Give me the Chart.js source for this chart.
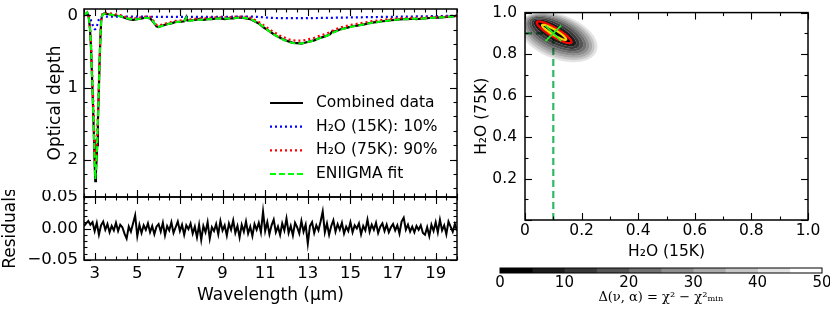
<!DOCTYPE html>
<html>
<head>
<meta charset="utf-8">
<script src="https://cdn.jsdelivr.net/npm/chart.js@4.4.0/dist/chart.umd.min.js"></script>
<style>
html, body { margin: 0; padding: 0; background: #fff; }
#wrap { position: relative; width: 830px; height: 319px; overflow: hidden; }
canvas { position: absolute; }
</style>
</head>
<body>
<div id="wrap">
  <canvas id="spec" width="470" height="200" style="left:0;top:0"></canvas>
  <canvas id="resid" width="470" height="129" style="left:0;top:190px"></canvas>
  <canvas id="chi" width="360" height="262" style="left:470px;top:0"></canvas>
  <canvas id="cbar" width="360" height="57" style="left:470px;top:262px"></canvas>
</div>
<script>
// ---- spectrum (optical depth) ----
const wl = [
  2.50, 2.58, 2.65, 2.72, 2.78, 2.83, 2.88, 2.93, 2.97, 3.00,
  3.03, 3.06, 3.09, 3.12, 3.15, 3.19, 3.23, 3.27, 3.31, 3.36,
  3.45, 3.60, 3.80, 4.00, 4.20, 4.40, 4.60, 4.80, 5.00, 5.20,
  5.40, 5.60, 5.75, 5.90, 6.00, 6.20, 6.40, 6.60, 6.80, 7.00,
  7.20, 7.30, 7.35, 7.50, 7.70, 7.90, 8.10, 8.30, 8.50, 8.70,
  8.90, 9.10, 9.30, 9.50, 9.70, 9.90, 10.1, 10.3, 10.5, 10.7,
  10.9, 11.1, 11.3, 11.5, 11.7, 11.9, 12.1, 12.3, 12.5, 12.7,
  12.9, 13.1, 13.3, 13.5, 13.7, 13.9, 14.05, 14.15, 14.3, 14.5,
  14.7, 14.9, 15.1, 15.3, 15.5, 15.7, 15.9, 16.1, 16.3, 16.5,
  16.7, 16.9, 17.1, 17.3, 17.5, 17.7, 17.9, 18.1, 18.3, 18.5,
  18.7, 18.9, 19.1, 19.3, 19.5, 19.7, 19.9, 20.0
];
const tauData = [
  0.00, -0.02, -0.04, 0.02, 0.18, 0.45, 0.88, 1.32, 1.72, 2.05,
  2.30, 2.18, 2.00, 1.80, 1.50, 1.10, 0.66, 0.30, 0.06, -0.01,
  -0.03, -0.02, -0.01, 0.00, 0.01, 0.03, 0.05, 0.06, 0.05, 0.04,
  0.03, 0.04, 0.09, 0.15, 0.16, 0.14, 0.12, 0.11, 0.09, 0.09,
  0.08, 0.02, 0.07, 0.07, 0.06, 0.05, 0.06, 0.05, 0.05, 0.04,
  0.04, 0.05, 0.04, 0.04, 0.03, 0.03, 0.04, 0.05, 0.08, 0.11,
  0.16, 0.20, 0.24, 0.28, 0.31, 0.34, 0.36, 0.38, 0.385, 0.39,
  0.375, 0.36, 0.345, 0.32, 0.30, 0.28, 0.26, 0.22, 0.22, 0.195,
  0.18, 0.165, 0.15, 0.14, 0.13, 0.12, 0.105, 0.095, 0.09, 0.08,
  0.075, 0.065, 0.06, 0.055, 0.05, 0.05, 0.045, 0.05, 0.045, 0.04,
  0.035, 0.03, 0.03, 0.025, 0.02, 0.015, 0.01, 0.005
];
const tau15 = [
  0.00, -0.01, -0.02, 0.00, 0.03, 0.07, 0.11, 0.15, 0.18, 0.19,
  0.19, 0.18, 0.16, 0.13, 0.09, 0.06, 0.04, 0.025, 0.02, 0.015,
  0.015, 0.015, 0.015, 0.015, 0.015, 0.015, 0.016, 0.016, 0.017, 0.017,
  0.017, 0.017, 0.018, 0.018, 0.018, 0.018, 0.018, 0.018, 0.018, 0.018,
  0.018, 0.018, 0.018, 0.018, 0.018, 0.018, 0.018, 0.018, 0.018, 0.018,
  0.018, 0.018, 0.018, 0.017, 0.017, 0.016, 0.016, 0.016, 0.017, 0.020,
  0.025, 0.030, 0.033, 0.035, 0.036, 0.037, 0.038, 0.038, 0.038, 0.038,
  0.038, 0.037, 0.036, 0.035, 0.034, 0.033, 0.032, 0.032, 0.031, 0.030,
  0.029, 0.028, 0.027, 0.026, 0.025, 0.024, 0.023, 0.022, 0.021, 0.020,
  0.020, 0.019, 0.018, 0.017, 0.016, 0.015, 0.014, 0.013, 0.012, 0.011,
  0.010, 0.009, 0.008, 0.007, 0.006, 0.005, 0.004, 0.004
];
const tau75 = [
  0.00, -0.01, -0.02, 0.02, 0.15, 0.38, 0.77, 1.16, 1.52, 1.84,
  2.08, 1.98, 1.83, 1.66, 1.40, 1.03, 0.62, 0.27, 0.04, -0.02,
  -0.04, -0.035, -0.025, -0.015, -0.005, 0.015, 0.03, 0.04, 0.035, 0.025,
  0.015, 0.02, 0.07, 0.13, 0.14, 0.125, 0.105, 0.09, 0.075, 0.07,
  0.065, 0.06, 0.06, 0.055, 0.045, 0.04, 0.04, 0.035, 0.03, 0.025,
  0.025, 0.025, 0.025, 0.02, 0.015, 0.015, 0.02, 0.03, 0.06, 0.09,
  0.13, 0.17, 0.21, 0.245, 0.28, 0.305, 0.33, 0.345, 0.35, 0.35,
  0.34, 0.325, 0.31, 0.287, 0.268, 0.249, 0.23, 0.213, 0.194, 0.168,
  0.154, 0.139, 0.125, 0.115, 0.106, 0.096, 0.084, 0.075, 0.069, 0.061,
  0.055, 0.048, 0.043, 0.039, 0.035, 0.034, 0.032, 0.034, 0.032, 0.029,
  0.026, 0.023, 0.021, 0.018, 0.014, 0.011, 0.007, 0.003
];
const tauFit = [
  0.00, -0.02, -0.04, 0.02, 0.18, 0.45, 0.88, 1.31, 1.70, 2.03,
  2.27, 2.16, 1.99, 1.79, 1.49, 1.09, 0.66, 0.30, 0.06, -0.005,
  -0.025, -0.02, -0.01, 0.00, 0.01, 0.03, 0.045, 0.055, 0.052, 0.042,
  0.032, 0.037, 0.088, 0.148, 0.158, 0.143, 0.123, 0.108, 0.093, 0.088,
  0.083, 0.03, 0.078, 0.073, 0.063, 0.058, 0.058, 0.053, 0.048, 0.043,
  0.043, 0.043, 0.043, 0.037, 0.032, 0.031, 0.036, 0.046, 0.077, 0.11,
  0.155, 0.20, 0.243, 0.28, 0.316, 0.342, 0.368, 0.383, 0.388, 0.388,
  0.378, 0.362, 0.346, 0.322, 0.302, 0.282, 0.262, 0.245, 0.225, 0.198,
  0.183, 0.167, 0.152, 0.141, 0.131, 0.12, 0.107, 0.097, 0.09, 0.081,
  0.075, 0.067, 0.061, 0.056, 0.051, 0.049, 0.046, 0.047, 0.044, 0.04,
  0.036, 0.032, 0.029, 0.025, 0.02, 0.016, 0.011, 0.007
];
const seriesNames = ['Combined data', 'H\u2082O (15K): 10%', 'H\u2082O (75K): 90%', 'ENIIGMA fit'];

// ---- residuals ----
const resWl = [
  2.5, 2.6, 2.7, 2.8, 2.9,
  3.0, 3.1, 3.2, 3.3, 3.4, 3.5, 3.6, 3.7, 3.8, 3.9,
  4.0, 4.1, 4.2, 4.3, 4.4, 4.5, 4.6, 4.7, 4.8, 4.9,
  5.0, 5.1, 5.2, 5.3, 5.4, 5.5, 5.6, 5.7, 5.8, 5.9,
  6.0, 6.1, 6.2, 6.3, 6.4, 6.5, 6.6, 6.7, 6.8, 6.9,
  7.0, 7.1, 7.2, 7.3, 7.4, 7.5, 7.6, 7.7, 7.8, 7.9,
  8.0, 8.1, 8.2, 8.3, 8.4, 8.5, 8.6, 8.7, 8.8, 8.9,
  9.0, 9.1, 9.2, 9.3, 9.4, 9.5, 9.6, 9.7, 9.8, 9.9,
  10.0, 10.1, 10.2, 10.3, 10.4, 10.5, 10.6, 10.7, 10.8, 10.9,
  11.0, 11.1, 11.2, 11.3, 11.4, 11.5, 11.6, 11.7, 11.8, 11.9,
  12.0, 12.1, 12.2, 12.3, 12.4, 12.5, 12.6, 12.7, 12.8, 12.9,
  13.0, 13.1, 13.2, 13.3, 13.4, 13.5, 13.6, 13.7, 13.8, 13.9,
  14.0, 14.1, 14.2, 14.3, 14.4, 14.5, 14.6, 14.7, 14.8, 14.9,
  15.0, 15.1, 15.2, 15.3, 15.4, 15.5, 15.6, 15.7, 15.8, 15.9,
  16.0, 16.1, 16.2, 16.3, 16.4, 16.5, 16.6, 16.7, 16.8, 16.9,
  17.0, 17.1, 17.2, 17.3, 17.4, 17.5, 17.6, 17.7, 17.8, 17.9,
  18.0, 18.1, 18.2, 18.3, 18.4, 18.5, 18.6, 18.7, 18.8, 18.9,
  19.0, 19.1, 19.2, 19.3, 19.4, 19.5, 19.6, 19.7, 19.8, 19.9,
  20.0
];
const residuals = [
  0.004, 0.008, 0.012, 0.006, 0.010,
  -0.004, 0.009, -0.010, 0.005, 0.011, -0.002, 0.007, -0.006, 0.004, -0.003,
  0.009, -0.004, 0.006, 0.002, -0.008, -0.016, 0.003, -0.005, 0.008, 0.021,
  -0.012, 0.006, -0.007, 0.005, -0.002, 0.008, -0.006, 0.004, -0.009, 0.003,
  0.007, -0.005, 0.009, -0.011, 0.004, -0.003, 0.010, -0.007, 0.002, 0.011,
  -0.004, 0.006, -0.010, 0.005, -0.001, 0.008, -0.008, 0.003, -0.014, 0.006,
  -0.018, 0.004, -0.006, 0.010, -0.016, 0.002, -0.004, 0.007, -0.009, 0.012,
  -0.003, 0.005, -0.011, 0.008, -0.002, 0.013, -0.007, 0.004, -0.014, 0.006,
  -0.005, 0.011, -0.008, 0.003, -0.012, 0.007, -0.002, 0.009, -0.006, 0.027,
  -0.004, 0.010, -0.009, 0.005, 0.014, -0.006, 0.003, -0.010, 0.008, -0.003,
  0.016, -0.007, 0.004, -0.011, 0.009, 0.002, -0.008, 0.012, -0.005, 0.006,
  -0.024, 0.004, 0.010, -0.007, 0.005, -0.003, 0.011, 0.027, -0.006, 0.008,
  -0.010, 0.004, 0.013, -0.005, 0.007, -0.002, 0.009, -0.008, 0.003, -0.004,
  0.010, -0.006, 0.005, 0.000, 0.008, -0.009, 0.004, -0.003, 0.014, -0.005,
  0.006, -0.002, 0.009, -0.007, 0.003, 0.008, -0.004, 0.006, -0.006, 0.002,
  0.007, -0.003, 0.005, -0.008, 0.011, 0.017, -0.002, 0.006, -0.005, 0.003,
  -0.006, 0.004, -0.002, 0.005, -0.007, -0.010, 0.002, -0.012, 0.006, -0.004,
  0.010, -0.006, 0.014, -0.003, 0.005, -0.009, 0.011, 0.003, -0.005, 0.007,
  -0.004
];

// ---- chi-square map ----
const bestX = 0.10, bestY = 0.90;
const chiLevels = [0, 5, 10, 15, 20, 25, 30, 35, 40, 45, 50];
const bandGray = ['#000000', '#1c1c1c', '#393939', '#555555', '#717171',
                  '#8e8e8e', '#aaaaaa', '#c6c6c6', '#e3e3e3', '#ffffff'];
// elliptical extent of each band (Δ <= 5, 10, ... 50)
const ellCx  = [0.104, 0.106, 0.108, 0.110, 0.112, 0.114, 0.116, 0.117, 0.119, 0.121];
const ellCy  = [0.904, 0.902, 0.899, 0.897, 0.894, 0.891, 0.888, 0.885, 0.882, 0.879];
const ellA   = [0.080, 0.093, 0.104, 0.114, 0.123, 0.131, 0.139, 0.146, 0.153, 0.160];
const ellB   = [0.022, 0.034, 0.045, 0.055, 0.064, 0.073, 0.082, 0.091, 0.100, 0.108];
const ellAng = [-40, -39.5, -39, -38.5, -38, -37.5, -37, -36.5, -36, -35.5];
// confidence contours
const confA = [0.078, 0.055];
const confB = [0.019, 0.011];
const confColor = ['#ff0000', '#ffd200'];

// ---- ticks ----
const specXTicks = [3, 5, 7, 9, 11, 13, 15, 17, 19];
const specXLabels = ['3', '5', '7', '9', '11', '13', '15', '17', '19'];
const tauTicks = [0, 1, 2];
const tauLabels = ['0', '1', '2'];
const resTicks = [-0.05, 0, 0.05];
const resLabels = ['\u22120.05', '0.00', '0.05'];
const fracTicks = [0, 0.2, 0.4, 0.6, 0.8, 1.0];
const fracXLabels = ['0', '0.2', '0.4', '0.6', '0.8', '1.0'];
const fracYLabels = ['', '0.2', '0.4', '0.6', '0.8', '1.0'];
const cbTicks = [0, 10, 20, 30, 40, 50];

const range = (a, b, s) => { const r = []; for (let v = a; v <= b + 1e-9; v += s) r.push(+v.toFixed(4)); return r; };
const pts = (xs, ys) => xs.map((x, i) => ({x: x, y: ys[i]}));
const setTicks = vals => s => { s.ticks = vals.map(v => ({value: v})); };
// fix an axis box size and drop the label overhang padding chart.js adds
const fitW = w => s => { s.width = w; s.paddingTop = s.paddingBottom = s.paddingLeft = s.paddingRight = 0; };
const fitH = h => s => { s.height = h; s.paddingTop = s.paddingBottom = s.paddingLeft = s.paddingRight = 0; };

Chart.defaults.font.family = "'DejaVu Sans', sans-serif";
Chart.defaults.color = '#000';

// axes frame with inward ticks on all four sides
const frameTicks = {
  id: 'frameTicks',
  afterDatasetsDraw(chart, args, o) {
    const {ctx, chartArea: a, scales} = chart;
    const xs = scales.x, ys = scales.y;
    ctx.save();
    ctx.strokeStyle = '#000';
    ctx.lineWidth = 1.1;
    const seg = (x1, y1, x2, y2) => { ctx.beginPath(); ctx.moveTo(x1, y1); ctx.lineTo(x2, y2); ctx.stroke(); };
    const xt = (vals, len) => (vals || []).forEach(v => {
      const p = Math.round(xs.getPixelForValue(v)) + 0.5;
      seg(p, a.bottom, p, a.bottom - len); seg(p, a.top, p, a.top + len);
    });
    const yt = (vals, len) => (vals || []).forEach(v => {
      const p = Math.round(ys.getPixelForValue(v)) + 0.5;
      seg(a.left, p, a.left + len, p); seg(a.right, p, a.right - len, p);
    });
    xt(o.xMajor, 7); xt(o.xMinor, 3.5); yt(o.yMajor, 7); yt(o.yMinor, 3.5);
    ctx.lineWidth = o.frame || 1.5;
    ctx.strokeRect(a.left, a.top, a.width, a.height);
    ctx.restore();
  }
};

// legend inside the spectrum panel
const specLegend = {
  id: 'specLegend',
  afterDatasetsDraw(chart, args, o) {
    const {ctx} = chart;
    ctx.save();
    ctx.font = "15.5px 'DejaVu Sans'";
    ctx.textBaseline = 'middle';
    chart.data.datasets.forEach((ds, i) => {
      const y = o.top + i * o.gap;
      ctx.strokeStyle = ds.borderColor;
      ctx.lineWidth = ds.borderWidth;
      ctx.setLineDash(ds.borderDash || []);
      ctx.beginPath(); ctx.moveTo(o.left, y); ctx.lineTo(o.left + 33, y); ctx.stroke();
      ctx.setLineDash([]);
      ctx.fillStyle = '#000';
      ctx.fillText(ds.label, o.left + 46, y);
    });
    ctx.restore();
  }
};

// filled Δχ² bands + confidence contours, drawn under the best-fit marker
const chiContours = {
  id: 'chiContours',
  beforeDatasetDraw(chart, args) {
    if (args.index !== 2) return;
    const {ctx, chartArea: a, scales: {x, y}} = chart;
    const ellipse = (cx, cy, ea, eb, deg) => {
      const th = deg * Math.PI / 180;
      for (let k = 0; k <= 90; k++) {
        const t = k / 90 * 2 * Math.PI;
        const dx = ea * Math.cos(t) * Math.cos(th) - eb * Math.sin(t) * Math.sin(th);
        const dy = ea * Math.cos(t) * Math.sin(th) + eb * Math.sin(t) * Math.cos(th);
        const px = x.getPixelForValue(cx + dx), py = y.getPixelForValue(cy + dy);
        k ? ctx.lineTo(px, py) : ctx.moveTo(px, py);
      }
      ctx.closePath();
    };
    ctx.save();
    ctx.beginPath(); ctx.rect(a.left, a.top, a.width, a.height); ctx.clip();
    ctx.globalCompositeOperation = 'multiply';
    for (let i = bandGray.length - 1; i >= 0; i--) {
      ctx.beginPath();
      ellipse(ellCx[i], ellCy[i], ellA[i], ellB[i], ellAng[i]);
      if (i > 0) ellipse(ellCx[i - 1], ellCy[i - 1], ellA[i - 1], ellB[i - 1], ellAng[i - 1]);
      ctx.fillStyle = bandGray[i];
      ctx.fill('evenodd');
    }
    ctx.globalCompositeOperation = 'source-over';
    confA.forEach((ea, i) => {
      ctx.beginPath();
      ellipse(bestX + 0.003, bestY + 0.005, ea, confB[i], -40);
      ctx.strokeStyle = confColor[i];
      ctx.lineWidth = 2.2;
      ctx.stroke();
    });
    ctx.restore();
  }
};

const hidden = {display: false, drawTicks: false};

new Chart(document.getElementById('spec'), {
  type: 'line',
  data: {
    datasets: [
      {label: seriesNames[0], data: pts(wl, tauData), borderColor: '#000000', borderWidth: 2.2, order: 4},
      {label: seriesNames[1], data: pts(wl, tau15), borderColor: '#0000ff', borderWidth: 2.2, borderDash: [2, 3], order: 3},
      {label: seriesNames[2], data: pts(wl, tau75), borderColor: '#ff0000', borderWidth: 2.2, borderDash: [2, 3], order: 2},
      {label: seriesNames[3], data: pts(wl, tauFit), borderColor: '#00ff00', borderWidth: 2, borderDash: [6, 3], order: 1}
    ]
  },
  options: {
    responsive: false, animation: false, devicePixelRatio: 1,
    elements: {point: {radius: 0}, line: {tension: 0, fill: false}},
    layout: {padding: {left: 0, top: 9, right: 13, bottom: 0}},
    scales: {
      x: {type: 'linear', min: 2.5, max: 20, ticks: {display: false}, grid: hidden, border: {display: false},
          afterFit: fitH(3)},
      y: {type: 'linear', reverse: true, min: -0.09, max: 2.52, afterBuildTicks: setTicks(tauTicks),
          ticks: {padding: 6, font: {size: 16.5}, callback: (v, i) => tauLabels[i]},
          grid: hidden, border: {display: false},
          title: {display: true, text: 'Optical depth', font: {size: 17}, padding: {top: 45, bottom: 0}},
          afterFit: fitW(84)}
    },
    plugins: {
      legend: {display: false}, tooltip: {enabled: false},
      frameTicks: {xMajor: specXTicks, xMinor: range(2.5, 20, 0.5), yMajor: tauTicks, yMinor: range(0.2, 2.4, 0.2)},
      specLegend: {left: 270, top: 103, gap: 23.7}
    }
  },
  plugins: [frameTicks, specLegend]
});

new Chart(document.getElementById('resid'), {
  type: 'line',
  data: {datasets: [{label: 'Residuals', data: pts(resWl, residuals), borderColor: '#000', borderWidth: 2}]},
  options: {
    responsive: false, animation: false, devicePixelRatio: 1,
    elements: {point: {radius: 0}, line: {tension: 0, fill: false}},
    layout: {padding: {left: 0, top: 7, right: 13, bottom: 0}},
    scales: {
      x: {type: 'linear', min: 2.5, max: 20, afterBuildTicks: setTicks(specXTicks),
          ticks: {padding: 4, font: {size: 16.5}, maxRotation: 0, autoSkip: false, callback: (v, i) => specXLabels[i]},
          grid: hidden, border: {display: false},
          title: {display: true, text: 'Wavelength (\u03bcm)', font: {size: 17}, padding: {top: 0, bottom: 13}},
          afterFit: fitH(59)},
      y: {type: 'linear', min: -0.05, max: 0.05, afterBuildTicks: setTicks(resTicks),
          ticks: {padding: 6, font: {size: 16.5}, callback: (v, i) => resLabels[i]},
          grid: hidden, border: {display: false},
          title: {display: true, text: 'Residuals', font: {size: 17}, padding: {top: 0, bottom: 0}},
          afterFit: fitW(84)}
    },
    plugins: {
      legend: {display: false}, tooltip: {enabled: false},
      frameTicks: {xMajor: specXTicks, xMinor: range(2.5, 20, 0.5), yMajor: resTicks, yMinor: range(-0.04, 0.04, 0.01)}
    }
  },
  plugins: [frameTicks]
});

new Chart(document.getElementById('chi'), {
  type: 'scatter',
  data: {
    datasets: [
      {data: pts([bestX, bestX], [0, bestY]), showLine: true, borderColor: '#2fb862', borderWidth: 2.2, borderDash: [7, 4], pointRadius: 0, order: 2},
      {data: pts([0, bestX], [bestY, bestY]), showLine: true, borderColor: '#2fb862', borderWidth: 2.2, borderDash: [7, 4], pointRadius: 0, order: 2},
      {data: [{x: bestX, y: bestY}], pointStyle: 'crossRot', pointRadius: 11, borderColor: '#22ee22', borderWidth: 1.6, order: 0}
    ]
  },
  options: {
    responsive: false, animation: false, devicePixelRatio: 1,
    layout: {padding: {left: 0, top: 10, right: 22, bottom: 0}},
    scales: {
      x: {type: 'linear', min: 0, max: 1, afterBuildTicks: setTicks(fracTicks),
          ticks: {padding: 2, font: {size: 15.5}, maxRotation: 0, autoSkip: false, callback: (v, i) => fracXLabels[i]},
          grid: hidden, border: {display: false},
          title: {display: true, text: 'H\u2082O (15K)', font: {size: 15.5}, padding: {top: 0, bottom: 1}},
          afterFit: fitH(42)},
      y: {type: 'linear', min: 0, max: 1, afterBuildTicks: setTicks(fracTicks),
          ticks: {padding: 8, font: {size: 15.5}, callback: (v, i) => fracYLabels[i]},
          grid: hidden, border: {display: false},
          title: {display: true, text: 'H\u2082O (75K)', font: {size: 15.5}, padding: {top: 3, bottom: 0}},
          afterFit: fitW(55)}
    },
    plugins: {
      legend: {display: false}, tooltip: {enabled: false},
      frameTicks: {xMajor: fracTicks, xMinor: range(0.1, 0.9, 0.2), yMajor: fracTicks, yMinor: range(0.1, 0.9, 0.2)}
    }
  },
  plugins: [chiContours, frameTicks]
});

new Chart(document.getElementById('cbar'), {
  type: 'bar',
  data: {
    labels: ['\u0394'],
    datasets: bandGray.map((g, i) => ({
      data: [[chiLevels[i], chiLevels[i + 1]]], backgroundColor: g, borderWidth: 0,
      grouped: false, barPercentage: 1, categoryPercentage: 1
    }))
  },
  options: {
    indexAxis: 'y', responsive: false, animation: false, devicePixelRatio: 1,
    layout: {padding: {left: 30, top: 6, right: 8, bottom: 0}},
    scales: {
      x: {type: 'linear', min: 0, max: 50, afterBuildTicks: setTicks(cbTicks),
          ticks: {padding: 1, font: {size: 15}, maxRotation: 0, autoSkip: false, callback: v => String(v)},
          grid: hidden, border: {display: false},
          title: {display: true, text: '\u0394(\u03bd, \u03b1) = \u03c7\u00b2 \u2212 \u03c7\u00b2\u2098\u1d62\u2099',
                  font: {family: "'DejaVu Serif', serif", size: 13}, padding: {top: 0, bottom: 14}},
          afterFit: fitH(46)},
      y: {display: false}
    },
    plugins: {
      legend: {display: false}, tooltip: {enabled: false},
      frameTicks: {xMajor: [], xMinor: [], yMajor: [], yMinor: [], frame: 1}
    }
  },
  plugins: [frameTicks]
});
</script>
</body>
</html>
